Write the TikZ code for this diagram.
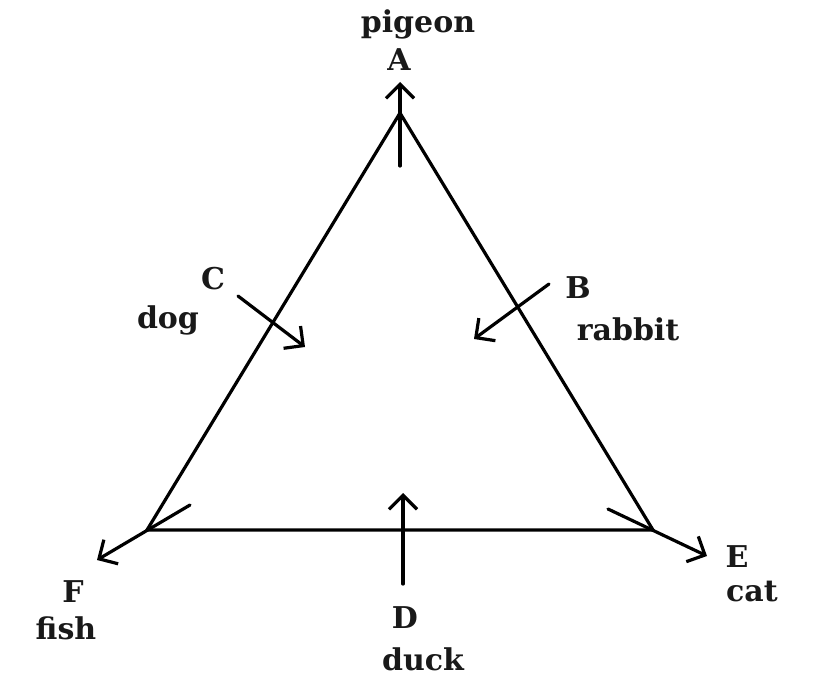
\documentclass[tikz,border=0pt]{standalone}
\usepackage{fontspec}
\setmainfont{DejaVu Serif}
\usetikzlibrary{arrows.meta}
\tikzset{
  edge/.style={line width=3.2pt, line cap=round, line join=miter},
  arr/.style={edge, -{Straight Barb[length=14pt,width=28pt]}},
  lbl/.style={font=\fontsize{30}{33}\selectfont\bfseries, inner sep=0pt, text=black!90}
}
\begin{document}
\begin{tikzpicture}[x=1pt,y=-1pt]
\useasboundingbox (0,0) rectangle (817,682);
% triangle vertices
\coordinate (top) at (400,113);
\coordinate (bl) at (147,530);
\coordinate (br) at (653,530);
\draw[edge] (bl) -- (top) -- (br) -- cycle;
% arrow ends
\coordinate (a0) at (400,166);
\coordinate (a1) at (400,82);
\coordinate (c0) at (238,296);
\coordinate (c1) at (305,347);
\coordinate (b0) at (549,284);
\coordinate (b1) at (474,339);
\coordinate (d0) at (403,584);
\coordinate (d1) at (403,493);
\coordinate (f0) at (190,505);
\coordinate (f1) at (97,560);
\coordinate (e0) at (608,509);
\coordinate (e1) at (707,556);
\draw[arr] (a0) -- (a1);
\draw[arr] (c0) -- (c1);
\draw[arr] (b0) -- (b1);
\draw[arr] (d0) -- (d1);
\draw[arr] (f0) -- (f1);
\draw[arr] (e0) -- (e1);
% labels
\node[lbl] (pigeon) at (418,24) {pigeon};
\node[lbl] (A) at (399,60) {A};
\node[lbl] (C) at (213,279) {C};
\node[lbl] (dog) at (168,320) {dog};
\node[lbl] (B) at (578,288) {B};
\node[lbl] (rabbit) at (628,329) {rabbit};
\node[lbl] (F) at (73,592) {F};
\node[lbl] (fish) at (66,628) {fish};
\node[lbl] (D) at (405,618) {D};
\node[lbl] (duck) at (423,659) {duck};
\node[lbl] (E) at (737,557) {E};
\node[lbl] (cat) at (752,592) {cat};
\end{tikzpicture}
\end{document}
